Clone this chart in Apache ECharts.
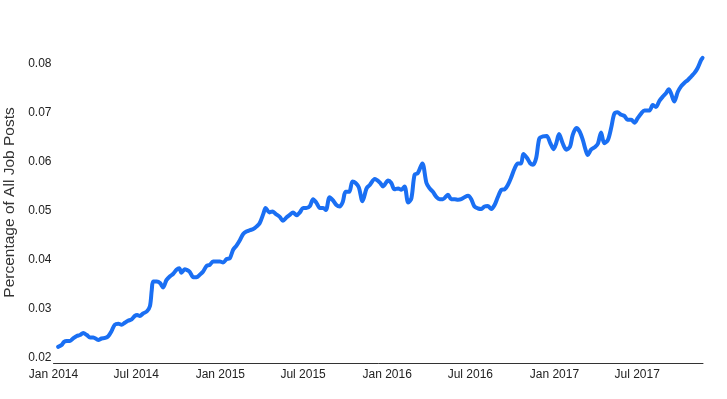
<!DOCTYPE html>
<html>
<head>
<meta charset="utf-8">
<script src="https://cdn.jsdelivr.net/npm/echarts@6/dist/echarts.min.js"></script>
<style>
html,body{margin:0;padding:0;background:#fff;}
#chart{width:727px;height:399px;}
</style>
</head>
<body>
<div id="chart"></div>
<script>
// Days since 2014-01-01 for each sample
var days = [10,18,23,29,36,43,51,58,65,73,80,87,98,105,113,120,127,134,142,149,156,163,171,178,183,189,196,204,211,215,218,226,233,240,247,255,262,269,275,280,287,
291,298,306,313,320,327,335,342,349,357,364,371,379,386,393,400,408,415,422,430,437,444,451,459,464,472,479,486,495,502,510,517,524,532,539,546,553,561,
568,575,583,590,596,604,612,619,626,633,639,647,654,661,668,676,685,692,703,714,721,732,739,746,754,761,768,776,783,790,797,807,816,823,830,838,845,
852,863,870,878,885,892,899,907,914,921,929,936,943,950,958,965,972,980,987,994,1002,1009,1016,1023,1028,1036,1043,1049,1056,1063,1071,1079,1087,1094,1100,1106,1114,1122,1130,
1136,1144,1151,1158,1164,1169,1176,1184,1191,1198,1205,1213,1220,1227,1234,1242,1249,1256,1264,1271,1278,1286,1293,1304,1311,1318,1326,1333,1340,1346,1351,1358,1366,1373,1380,1388,1395,1402,1409,1417,1420];
// Share of all job posts
var shares = [0.0223,0.0227,0.0233,0.0235,0.0235,0.0240,0.0245,0.0247,0.0251,0.0247,0.0242,0.0242,0.0237,0.0240,0.0241,0.0245,0.0255,0.0268,0.0270,0.0268,0.0272,0.0276,0.0279,0.0286,0.0288,0.0286,0.0291,0.0295,0.0306,0.0339,0.0356,0.0356,0.0353,0.0344,0.0359,0.0367,0.0372,0.0380,0.0383,0.0374,0.0381,
0.0380,0.0376,0.0365,0.0365,0.0370,0.0376,0.0388,0.0390,0.0397,0.0397,0.0397,0.0395,0.0402,0.0404,0.0421,0.0429,0.0441,0.0453,0.0458,0.0461,0.0463,0.0468,0.0475,0.0494,0.0506,0.0497,0.0499,0.0494,0.0488,0.0480,0.0487,0.0492,0.0497,0.0491,0.0497,0.0506,0.0506,0.0510,
0.0524,0.0517,0.0506,0.0506,0.0502,0.0528,0.0521,0.0512,0.0509,0.0519,0.0539,0.0539,0.0560,0.0557,0.0548,0.0520,0.0546,0.0553,0.0565,0.0558,0.0550,0.0562,0.0557,0.0544,0.0546,0.0543,0.0550,0.0517,0.0526,0.0574,0.0577,0.0597,0.0557,0.0546,0.0539,0.0528,0.0524,
0.0524,0.0533,0.0524,0.0524,0.0523,0.0524,0.0528,0.0531,0.0524,0.0509,0.0505,0.0504,0.0509,0.0510,0.0504,0.0512,0.0528,0.0543,0.0544,0.0553,0.0570,0.0587,0.0597,0.0597,0.0616,0.0608,0.0597,0.0594,0.0608,0.0648,0.0652,0.0653,0.0638,0.0626,0.0638,0.0657,0.0638,0.0625,0.0631,
0.0655,0.0669,0.0662,0.0645,0.0625,0.0614,0.0625,0.0630,0.0637,0.0660,0.0638,0.0645,0.0669,0.0698,0.0701,0.0696,0.0694,0.0686,0.0686,0.0680,0.0689,0.0699,0.0705,0.0705,0.0716,0.0712,0.0725,0.0733,0.0740,0.0748,0.0740,0.0723,0.0743,0.0754,0.0761,0.0767,0.0774,0.0781,0.0791,0.0808,0.0812];
// x tick positions (days since 2014-01-01) and their labels
var xTickDays = [0,181,365,546,730,912,1096,1277];
var xTickLabels = ['Jan 2014','Jul 2014','Jan 2015','Jul 2015','Jan 2016','Jul 2016','Jan 2017','Jul 2017'];
var yTicks = [0.02,0.03,0.04,0.05,0.06,0.07,0.08];
var yTitle = 'Percentage of All Job Posts';

var data = days.map(function(d,i){return [d, shares[i]];});
var FONT = 'Liberation Sans, Arial, Helvetica, sans-serif';

var chart = echarts.init(document.getElementById('chart'));
chart.setOption({
  animation:false,
  backgroundColor:'#ffffff',
  grid:{left:53.5,right:24,top:54,bottom:36,containLabel:false,outerBoundsMode:'none'},
  xAxis:{
    type:'value',
    min:0,
    max:1421,
    axisLine:{show:true,lineStyle:{color:'#333333',width:1}},
    axisTick:{show:false},
    splitLine:{show:false},
    axisLabel:{
      customValues: xTickDays,
      margin:6,
      color:'#222222',
      fontFamily:FONT,
      fontSize:12,
      hideOverlap:false,
      showMinLabel:true,
      formatter:function(v){
        var i = xTickDays.indexOf(Math.round(v));
        return i>=0 ? xTickLabels[i] : '';
      }
    }
  },
  yAxis:{
    type:'value',
    min:0.019,
    max:0.082,
    name: yTitle,
    nameLocation:'middle',
    nameGap:33,
    nameRotate:90,
    nameTextStyle:{color:'#333333',fontSize:15.5,fontFamily:FONT,padding:[0,0,0,12]},
    axisLine:{show:false},
    axisTick:{show:false},
    splitLine:{show:false},
    axisLabel:{
      customValues: yTicks,
      margin:2,
      color:'#222222',
      fontFamily:FONT,
      fontSize:12,
      formatter:function(v){return v.toFixed(2);}
    }
  },
  series:[{
    type:'line',
    data:data,
    showSymbol:false,
    smooth:0.3,
    lineStyle:{color:'#1a6ff3',width:4,join:'round',cap:'round'},
    itemStyle:{color:'#1a6ff3'}
  }]
});
</script>
</body>
</html>
